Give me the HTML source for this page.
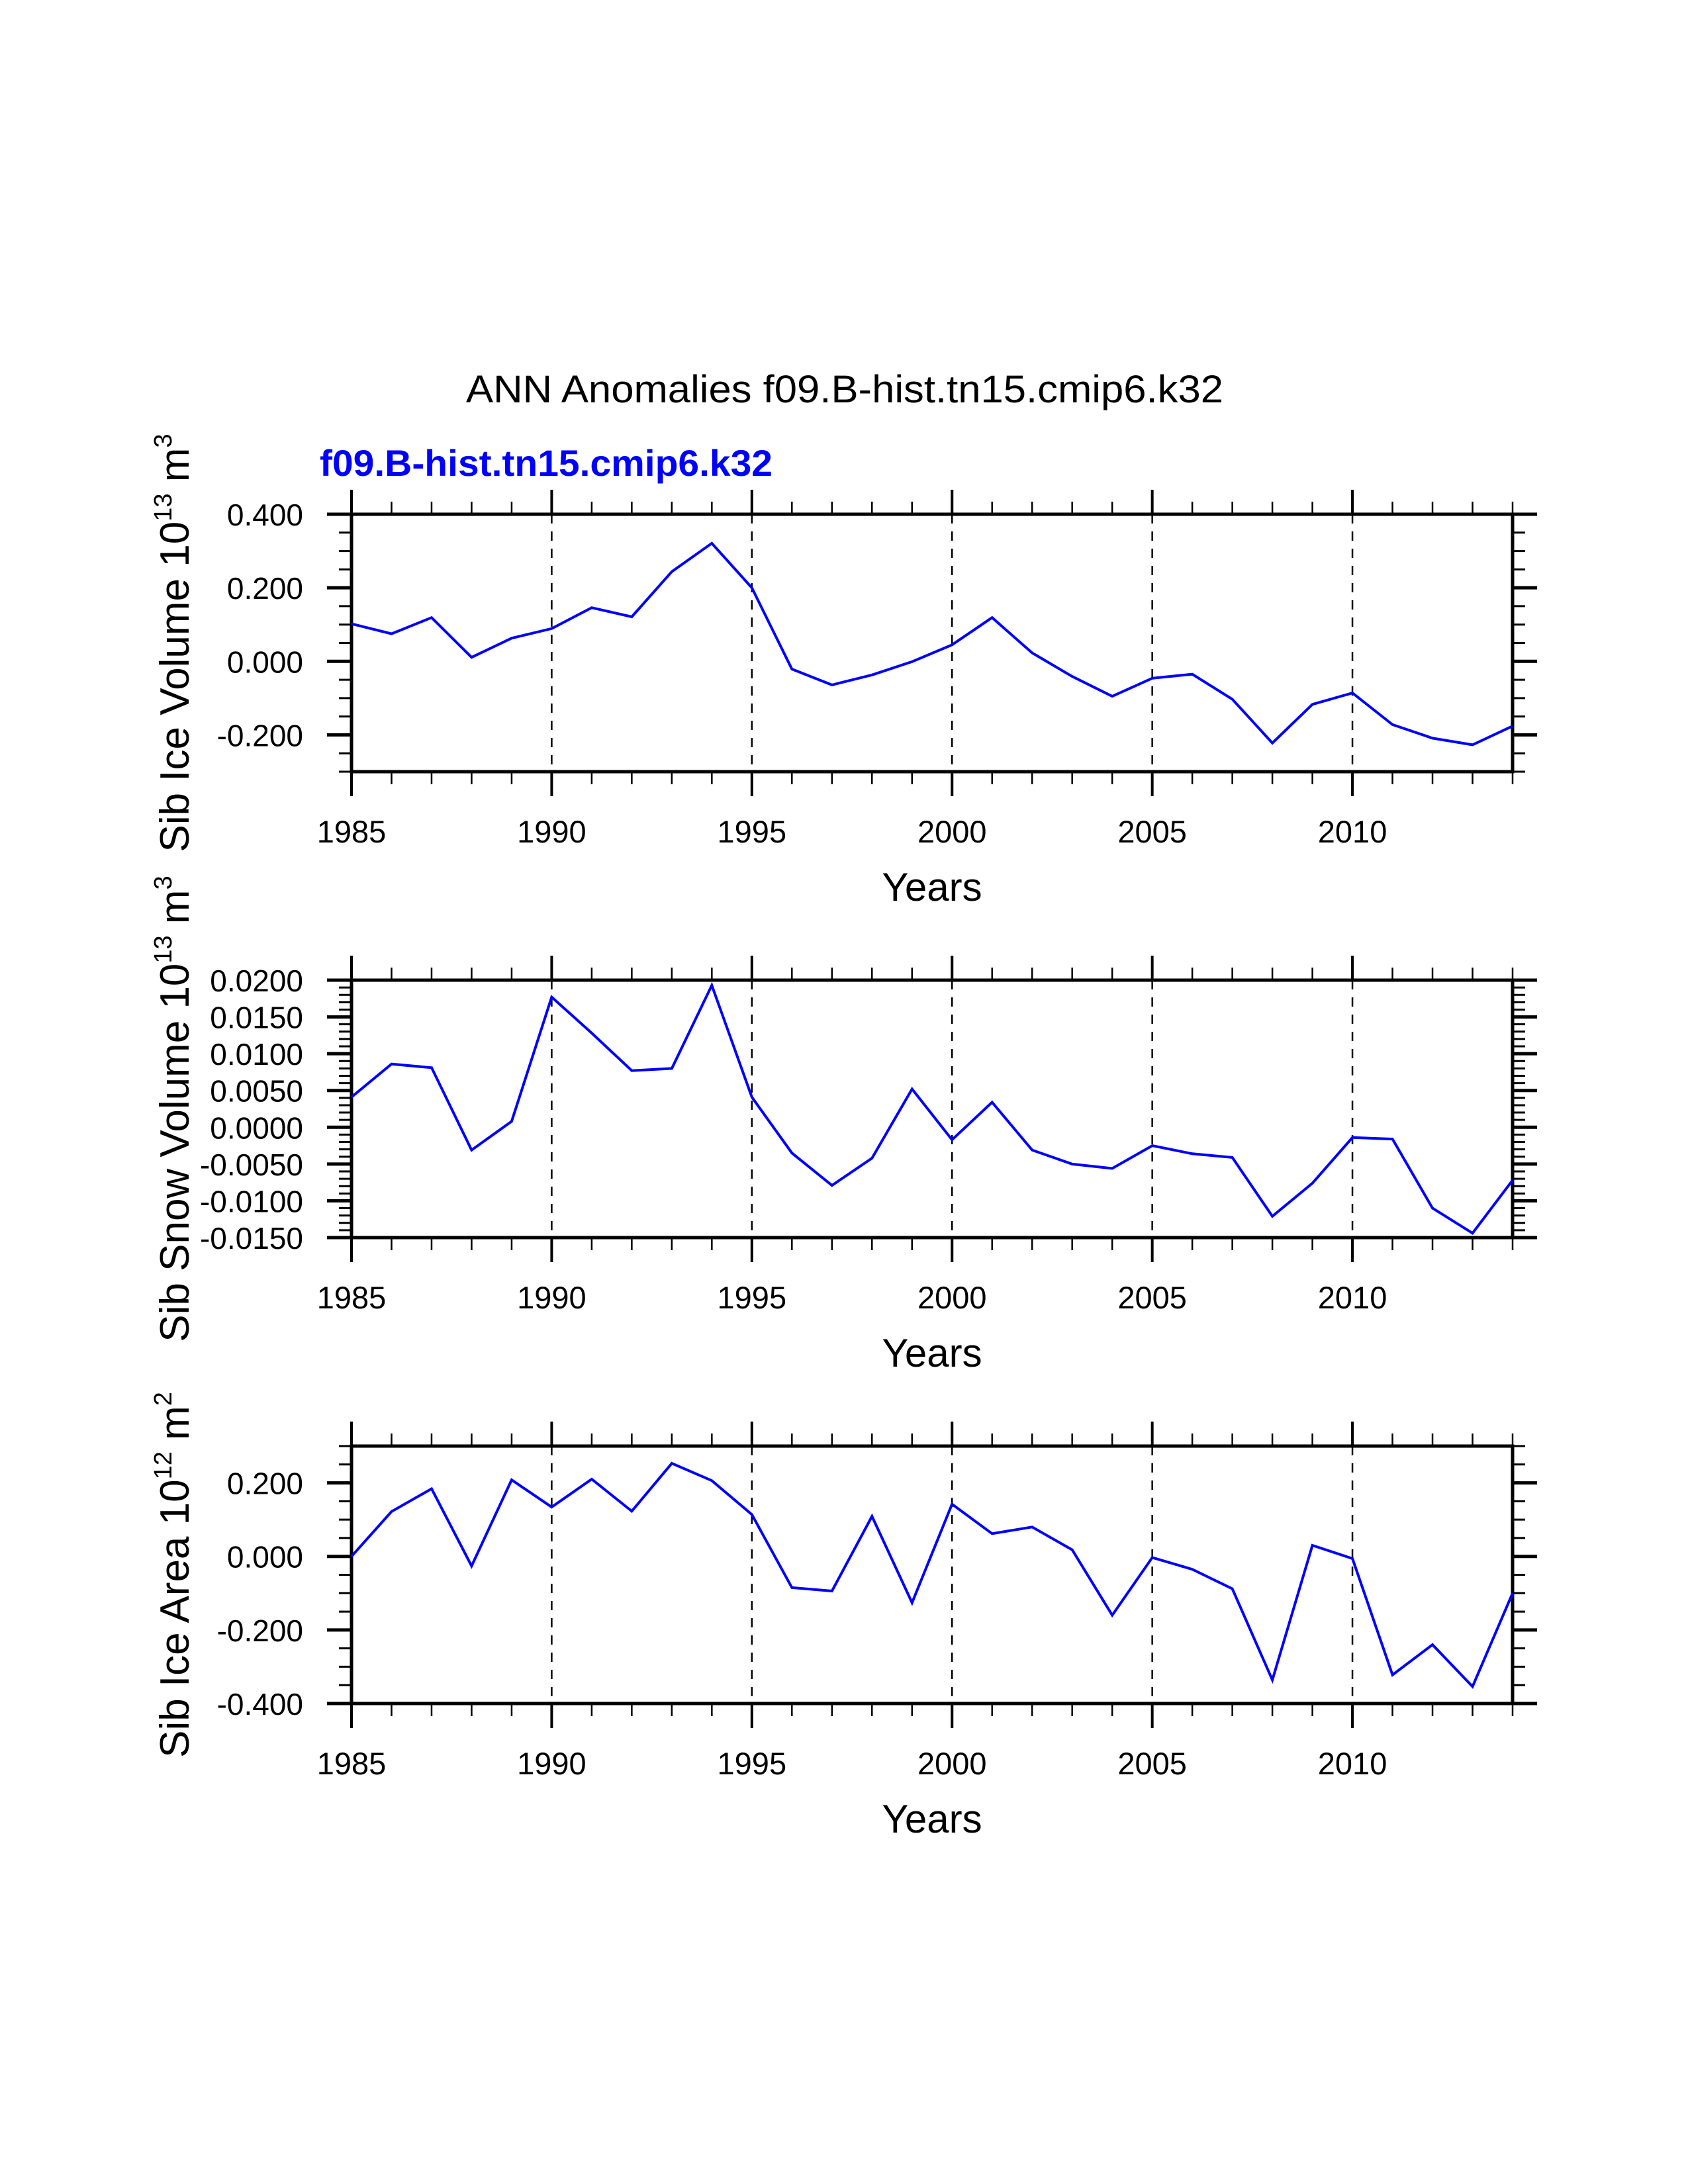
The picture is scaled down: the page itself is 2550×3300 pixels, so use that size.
<!DOCTYPE html>
<html><head><meta charset="utf-8"><style>
html,body{margin:0;padding:0;background:#fff;}
svg{display:block;font-family:"Liberation Sans",sans-serif;}
</style></head><body>
<svg id="fig" width="2550" height="3300" viewBox="0 0 2550 3300" xmlns="http://www.w3.org/2000/svg">
<text x="1276" y="608" font-size="58" text-anchor="middle" textLength="1144" lengthAdjust="spacingAndGlyphs">ANN Anomalies f09.B-hist.tn15.cmip6.k32</text>
<text x="483" y="719" font-size="56" font-weight="bold" fill="#0000ff" textLength="684" lengthAdjust="spacingAndGlyphs">f09.B-hist.tn15.cmip6.k32</text>
</svg>
<script>
const years = [1985,1986,1987,1988,1989,1990,1991,1992,1993,1994,1995,1996,1997,1998,1999,2000,2001,2002,2003,2004,2005,2006,2007,2008,2009,2010,2011,2012,2013,2014];
const iceVolume = [0.102,0.075,0.119,0.011,0.063,0.089,0.146,0.121,0.244,0.321,0.200,-0.021,-0.064,-0.037,-0.001,0.045,0.119,0.023,-0.041,-0.095,-0.046,-0.035,-0.103,-0.222,-0.117,-0.086,-0.172,-0.209,-0.227,-0.176];
const snowVolume = [0.0041,0.0086,0.0081,-0.0031,0.0008,0.0177,0.0128,0.0077,0.0080,0.0193,0.0041,-0.0035,-0.0079,-0.0042,0.0052,-0.0017,0.0034,-0.0031,-0.0050,-0.0056,-0.0025,-0.0036,-0.0041,-0.0121,-0.0076,-0.0014,-0.0016,-0.0110,-0.0144,-0.0072];
const iceArea = [0.000,0.122,0.184,-0.026,0.208,0.134,0.210,0.123,0.253,0.206,0.114,-0.085,-0.094,0.109,-0.126,0.142,0.062,0.080,0.018,-0.160,-0.003,-0.035,-0.088,-0.336,0.030,-0.006,-0.322,-0.240,-0.354,-0.100];
const yearTicks = ['1985','1990','1995','2000','2005','2010'];
const volTicks = ['0.400','0.200','0.000','-0.200'];
const snowTicks = ['0.0200','0.0150','0.0100','0.0050','0.0000','-0.0050','-0.0100','-0.0150'];
const areaTicks = ['0.200','0.000','-0.200','-0.400'];

const NS='http://www.w3.org/2000/svg';
const svg=document.getElementById('fig');
const X0=531, X1=2285, H=389;
function xs(yr){return X0+(yr-1985)*(X1-X0)/29;}
function mk(tag,attrs,parent){const e=document.createElementNS(NS,tag);for(const k in attrs)e.setAttribute(k,attrs[k]);(parent||svg).appendChild(e);return e;}

function panel(top,ymin,ymax,minorStep,vals,ticks,key,titleParts){
  const g=mk('g',{});
  
  
  const ys=v=>top+(ymax-v)*H/(ymax-ymin);
  const bot=top+H;
  // dashed grid
  for(let yr=1990;yr<=2010;yr+=5){
    const l=mk('line',{x1:xs(yr),x2:xs(yr),y1:top,y2:bot,stroke:'#000','stroke-width':2.5,'stroke-dasharray':'14,12'},g);
    
    
  }
  // x ticks
  for(let yr=1985;yr<=2014;yr++){
    const maj=(yr%5===0), len=maj?37:19, x=xs(yr);
    mk('line',{x1:x,x2:x,y1:top,y2:top-len,stroke:'#000','stroke-width':maj?4:2.5},g);
    mk('line',{x1:x,x2:x,y1:bot,y2:bot+len,stroke:'#000','stroke-width':maj?4:2.5},g);
  }
  // y ticks
  const n=Math.round((ymax-ymin)/minorStep);
  for(let i=0;i<=n;i++){
    const v=ymin+i*minorStep;
    const lab=ticks.find(t=>Math.abs(parseFloat(t)-v)<minorStep/10);
    const len=lab?37:19, y=ys(v);
    mk('line',{x1:X0,x2:X0-len,y1:y,y2:y,stroke:'#000','stroke-width':lab?5:3},g);
    mk('line',{x1:X1,x2:X1+len,y1:y,y2:y,stroke:'#000','stroke-width':lab?5:3},g);
  }
  ticks.forEach(t=>{
    const tx=mk('text',{x:458,y:ys(parseFloat(t))+17,'font-size':46,'text-anchor':'end'},g);
    tx.textContent=t;
    
    
  });
  yearTicks.forEach(t=>{
    const tx=mk('text',{x:xs(+t),y:bot+107,'font-size':47,'text-anchor':'middle'},g);
    tx.textContent=t;
    
    
  });
  // frame
  const fr=mk('rect',{x:X0,y:top,width:X1-X0,height:H,fill:'none',stroke:'#000','stroke-width':5},g);
  
  
  // series
  const pts=vals.map((v,i)=>xs(years[i]).toFixed(1)+','+ys(v).toFixed(1)).join(' ');
  const pl=mk('polyline',{points:pts,fill:'none',stroke:'#0000ff','stroke-width':4,'stroke-linejoin':'miter'},g);
  
  
  // x title
  const xt=mk('text',{x:(X0+X1)/2,y:bot+195,'font-size':60,'text-anchor':'middle'},g);
  xt.textContent='Years';
  
  
  // y title
  const cy=top+H/2;
  const yt=mk('text',{x:0,y:0,'font-size':62,'text-anchor':'middle',transform:'translate(285,'+cy+') rotate(-90)'},g);
  
  
  const a=mk('tspan',{},yt);a.textContent=titleParts[0];
  const b=mk('tspan',{'font-size':38,dy:-26},yt);b.textContent=titleParts[1];
  const c=mk('tspan',{dy:26},yt);c.textContent=' '+titleParts[2];
  const d=mk('tspan',{'font-size':38,dy:-26},yt);d.textContent=titleParts[3];
}
panel(777,-0.3,0.4,0.05,iceVolume,volTicks,'ice-volume',['Sib Ice Volume 10','13','m','3']);
panel(1481,-0.015,0.020,0.001,snowVolume,snowTicks,'snow-volume',['Sib Snow Volume 10','13','m','3']);
panel(2185,-0.4,0.3,0.05,iceArea,areaTicks,'ice-area',['Sib Ice Area 10','12','m','2']);
</script>
</body></html>
